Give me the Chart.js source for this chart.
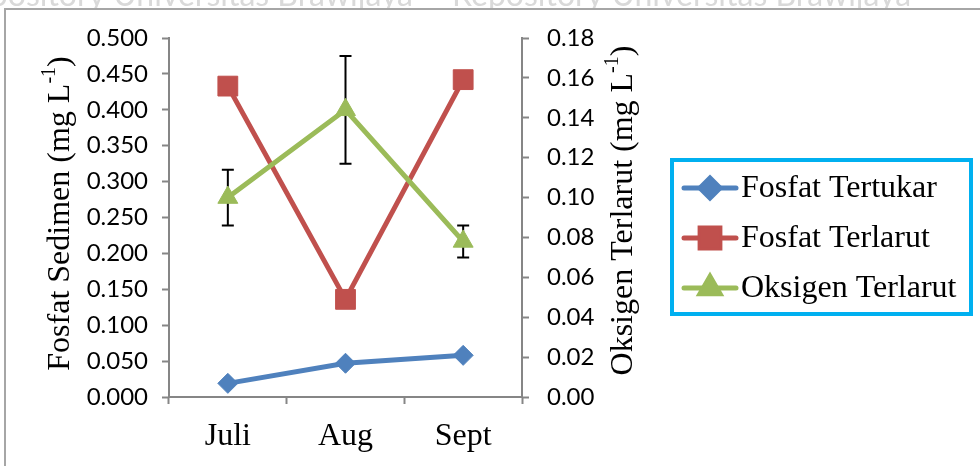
<!DOCTYPE html>
<html>
<head>
<meta charset="utf-8">
<script src="https://cdn.jsdelivr.net/npm/chart.js@4.4.1/dist/chart.umd.min.js"></script>
<style>
  html, body { margin: 0; padding: 0; background: #fff; }
  canvas { display: block; }
</style>
</head>
<body>
<canvas id="grafik" width="980" height="466"></canvas>
<script>
// data bulanan
const bulan = ['Juli', 'Aug', 'Sept'];
const fosfatTertukar = [0.019, 0.047, 0.058];
const fosfatTerlarut = [0.433, 0.136, 0.442];
const oksigenTerlarut = [0.100, 0.144, 0.078];
const oksigenGalat = [0.014, 0.027, 0.008];

// label sumbu
const labelKiri = ['0.000', '0.050', '0.100', '0.150', '0.200', '0.250', '0.300', '0.350', '0.400', '0.450', '0.500'];
const labelKanan = ['0.00', '0.02', '0.04', '0.06', '0.08', '0.10', '0.12', '0.14', '0.16', '0.18'];
const judulKiri = ['Fosfat Sedimen (mg L', '-1', ')'];
const judulKanan = ['Oksigen Terlarut (mg L', '-1', ')'];

const BIRU = '#4f81bd';
const MERAH = '#c0504d';
const HIJAU = '#9bbb59';
const ABU = '#868686';
const SERIF = '"Liberation Serif", "Times New Roman", serif';
const SANS = 'Lato, "Open Sans", sans-serif';

// latar, garis bingkai dan tulisan samar di tepi atas
const bingkai = {
  id: 'bingkai',
  beforeDraw(chart) {
    const ctx = chart.ctx;
    ctx.save();
    ctx.fillStyle = '#fff';
    ctx.fillRect(0, 0, chart.width, chart.height);
    ctx.fillStyle = '#d9d9d9';
    ctx.font = '32px ' + SANS;
    ctx.textBaseline = 'alphabetic';
    ctx.textAlign = 'right';
    ctx.fillText('Repository Universitas Brawijaya', 413, 6);
    ctx.textAlign = 'left';
    ctx.fillText('Repository Universitas Brawijaya', 452, 6);
    ctx.fillStyle = '#fff';
    ctx.fillRect(0, 9, chart.width, chart.height);
    ctx.strokeStyle = '#a6a6a6';
    ctx.lineWidth = 2;
    ctx.beginPath();
    ctx.moveTo(5, chart.height);
    ctx.lineTo(5, 9);
    ctx.lineTo(chart.width, 9);
    ctx.stroke();
    ctx.restore();
  }
};

// error bar oksigen, digambar tepat sebelum garis oksigen
const errorBars = {
  id: 'errorBars',
  beforeDatasetDraw(chart, args) {
    if (args.index !== 2) return;
    const ctx = chart.ctx;
    const skala = chart.scales.y1;
    const meta = chart.getDatasetMeta(2);
    ctx.save();
    ctx.strokeStyle = '#000';
    ctx.lineWidth = 2;
    meta.data.forEach((titik, i) => {
      const atas = skala.getPixelForValue(oksigenTerlarut[i] + oksigenGalat[i]);
      const bawah = skala.getPixelForValue(oksigenTerlarut[i] - oksigenGalat[i]);
      ctx.beginPath();
      ctx.moveTo(titik.x, atas);
      ctx.lineTo(titik.x, bawah);
      ctx.moveTo(titik.x - 6, atas);
      ctx.lineTo(titik.x + 6, atas);
      ctx.moveTo(titik.x - 6, bawah);
      ctx.lineTo(titik.x + 6, bawah);
      ctx.stroke();
    });
    ctx.restore();
  }
};

function tulisJudul(ctx, bagian, x, y) {
  // teks diputar -90 derajat, pangkat ditulis kecil dan naik
  ctx.save();
  ctx.translate(x, y);
  ctx.rotate(-Math.PI / 2);
  ctx.fillStyle = '#000';
  ctx.textBaseline = 'middle';
  const besar = '32px ' + SERIF;
  const kecil = '20px ' + SERIF;
  ctx.font = besar;
  const w0 = ctx.measureText(bagian[0]).width;
  const w2 = ctx.measureText(bagian[2]).width;
  ctx.font = kecil;
  const w1 = ctx.measureText(bagian[1]).width;
  let cx = -(w0 + w1 + w2) / 2;
  ctx.textAlign = 'left';
  ctx.font = besar;
  ctx.fillText(bagian[0], cx, 0);
  cx += w0;
  ctx.font = kecil;
  ctx.fillText(bagian[1], cx, -11);
  cx += w1;
  ctx.font = besar;
  ctx.fillText(bagian[2], cx, 0);
  ctx.restore();
}

const judulSumbu = {
  id: 'judulSumbu',
  afterDraw(chart) {
    const area = chart.chartArea;
    const tengah = (area.top + area.bottom) / 2 - 4;
    tulisJudul(chart.ctx, judulKiri, 61, tengah);
    tulisJudul(chart.ctx, judulKanan, 624, tengah - 3);
  }
};

// legenda dengan garis + penanda, dalam kotak biru muda
const legenda = {
  id: 'legenda',
  afterDraw(chart) {
    const ctx = chart.ctx;
    ctx.save();
    ctx.strokeStyle = '#00b0f0';
    ctx.lineWidth = 4;
    ctx.strokeRect(672, 160, 299, 154);
    const urutan = [0, 1, 2];
    const barisY = [188, 238, 288];
    urutan.forEach((idx, k) => {
      const ds = chart.data.datasets[idx];
      const y = barisY[k];
      ctx.strokeStyle = ds.borderColor;
      ctx.lineWidth = ds.borderWidth;
      ctx.lineCap = 'round';
      ctx.beginPath();
      ctx.moveTo(684, y);
      ctx.lineTo(736, y);
      ctx.stroke();
      ctx.fillStyle = ds.backgroundColor;
      Chart.helpers.drawPoint(ctx, {
        pointStyle: ds.pointStyle,
        radius: ds.pointRadius,
        rotation: 0,
        borderWidth: 1
      }, 710, y);
      ctx.fill();
      ctx.fillStyle = '#000';
      ctx.font = '32px ' + SERIF;
      ctx.textBaseline = 'middle';
      ctx.textAlign = 'left';
      ctx.fillText(ds.label, 741, y + 1);
    });
    ctx.restore();
  }
};

const ctx = document.getElementById('grafik');

new Chart(ctx, {
  type: 'line',
  data: {
    labels: bulan,
    datasets: [
      {
        label: 'Fosfat Tertukar',
        data: fosfatTertukar,
        yAxisID: 'y',
        borderColor: BIRU,
        backgroundColor: BIRU,
        borderWidth: 5,
        pointStyle: 'rectRot',
        pointRadius: 10,
        pointBorderWidth: 1,
        order: 2,
      },
      {
        label: 'Fosfat Terlarut',
        data: fosfatTerlarut,
        yAxisID: 'y',
        borderColor: MERAH,
        backgroundColor: MERAH,
        borderWidth: 5,
        pointStyle: 'rect',
        pointRadius: 14,
        pointBorderWidth: 1,
        order: 1,
      },
      {
        label: 'Oksigen Terlarut',
        data: oksigenTerlarut,
        yAxisID: 'y1',
        borderColor: HIJAU,
        backgroundColor: HIJAU,
        borderWidth: 5,
        pointStyle: 'triangle',
        pointRadius: 11.5,
        pointBorderWidth: 1,
        order: 0,
      },
    ],
  },
  options: {
    responsive: false,
    animation: false,
    events: [],
    layout: { padding: { left: 0, right: 0, top: 38, bottom: 0 } },
    plugins: {
      legend: { display: false },
      tooltip: { enabled: false },
    },
    scales: {
      x: {
        type: 'category',
        offset: true,
        grid: { offset: true, drawOnChartArea: false, tickLength: 7, tickColor: ABU, tickWidth: 2 },
        border: { color: ABU, width: 2 },
        ticks: { color: '#000', padding: 13, font: { family: SERIF, size: 32 } },
        afterFit: (s) => { s.height = 69; },
      },
      y: {
        position: 'left',
        min: 0,
        max: 0.5,
        grid: { drawOnChartArea: false, tickLength: 7, tickColor: ABU, tickWidth: 2 },
        border: { color: ABU, width: 2 },
        ticks: {
          stepSize: 0.05,
          color: '#000',
          padding: 14,
          font: { family: SANS, size: 24 },
          callback: (v, i) => labelKiri[i],
        },
        afterFit: (s) => { s.width = 169; },
      },
      y1: {
        position: 'right',
        min: 0,
        max: 0.18,
        grid: { drawOnChartArea: false, tickLength: 7, tickColor: ABU, tickWidth: 2 },
        border: { color: ABU, width: 2 },
        ticks: {
          stepSize: 0.02,
          color: '#000',
          padding: 18,
          font: { family: SANS, size: 24 },
          callback: (v, i) => labelKanan[i],
        },
        afterFit: (s) => { s.width = 980 - 522; },
      },
    },
  },
  plugins: [bingkai, errorBars, judulSumbu, legenda],
});
</script>
</body>
</html>
